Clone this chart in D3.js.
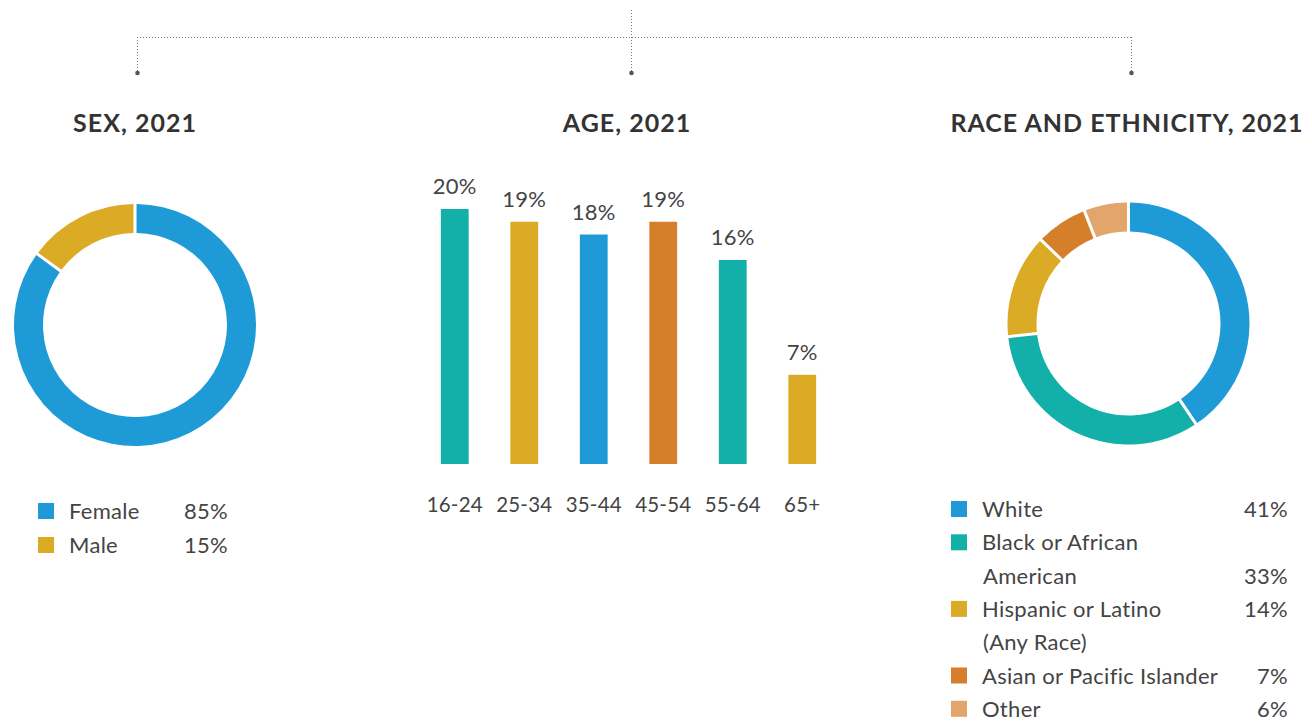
<!DOCTYPE html>
<html lang="en">
    <head>
        <meta charset="utf-8"/>
        <title>Demographics 2021</title>
        <script src="https://d3js.org/d3.v7.min.js"></script>
        <style>
            body { margin: 0; background-color: #fff; font-family: Lato, "Open Sans", sans-serif; }
            .title { font-weight: 700; font-size: 25px; fill: #333; letter-spacing: 1px; }
            .lbl { font-size: 22px; fill: #444; letter-spacing: 0.3px; }
            .tick text { font-size: 20.5px; fill: #444; letter-spacing: 0.2px; }
        </style>
    </head>
    <body>
        <div id="chart"></div>
        <script>
            // data
            var sexLabels = ["Female", "Male"];
            var sexValues = [85, 15];

            var ageGroups = ["16-24", "25-34", "35-44", "45-54", "55-64", "65+"];
            var ageValues = [20, 19, 18, 19, 16, 7];

            var raceLabels = ["White", "Black or African American", "Hispanic or Latino (Any Race)", "Asian or Pacific Islander", "Other"];
            var raceValues = [41, 33, 14, 7, 6];

            var blue = "#1e9bd7", teal = "#12b0a8", gold = "#dbab26", orange = "#d57f2a", tan = "#e2a66c";
            var sexColors = [blue, gold];
            var ageColors = [teal, gold, blue, orange, teal, gold];
            var raceColors = [blue, teal, gold, orange, tan];

            var width = 1312, height = 721;
            var svg = d3.select("#chart")
              .append("svg")
                .attr("width", width)
                .attr("height", height);

            // dotted connector at the top
            var conn = svg.append("g")
                .attr("stroke", "#777")
                .attr("stroke-width", 1)
                .attr("stroke-dasharray", "1,2")
                .attr("fill", "none");
            var xs = [137, 631, 1131];
            conn.append("line").attr("x1", xs[0]).attr("x2", xs[2]).attr("y1", 37.5).attr("y2", 37.5);
            conn.append("line").attr("x1", xs[1] + 0.5).attr("x2", xs[1] + 0.5).attr("y1", 10).attr("y2", 72);
            conn.append("line").attr("x1", xs[0] + 0.5).attr("x2", xs[0] + 0.5).attr("y1", 37).attr("y2", 73);
            conn.append("line").attr("x1", xs[2] + 0.5).attr("x2", xs[2] + 0.5).attr("y1", 37).attr("y2", 72);
            svg.append("g").selectAll("circle")
                .data(xs)
                .join("circle")
                .attr("cx", d => d + 0.5)
                .attr("cy", 73)
                .attr("r", 2.3)
                .attr("fill", "#555");

            // titles
            var titles = [["SEX, 2021", 135], ["AGE, 2021", 627], ["RACE AND ETHNICITY, 2021", 1127]];
            svg.selectAll("text.title")
                .data(titles)
                .join("text")
                .attr("class", "title")
                .attr("x", d => d[1])
                .attr("y", 132)
                .attr("text-anchor", "middle")
                .text(d => d[0]);

            var pie = d3.pie().sort(null).value(d => d);
            var arc = d3.arc().innerRadius(92).outerRadius(121).padAngle(0.02);

            function donut(values, colors, cx, cy) {
                svg.append("g")
                    .attr("transform", `translate(${cx},${cy})`)
                  .selectAll("path")
                    .data(pie(values))
                    .join("path")
                    .attr("d", arc)
                    .attr("fill", (d, i) => colors[i]);
            }

            // sex donut + legend
            donut(sexValues, sexColors, 135, 325);
            var sexLeg = svg.append("g").selectAll("g")
                .data(sexLabels)
                .join("g")
                .attr("transform", (d, i) => `translate(0,${519 + i * 34})`);
            sexLeg.append("rect")
                .attr("x", 38).attr("y", -16)
                .attr("width", 16).attr("height", 16)
                .attr("fill", (d, i) => sexColors[i]);
            sexLeg.append("text")
                .attr("class", "lbl")
                .attr("x", 69)
                .text(d => d);
            sexLeg.append("text")
                .attr("class", "lbl")
                .attr("x", 184)
                .text((d, i) => sexValues[i] + "%");

            // age bars
            var x = d3.scaleBand()
                .domain(ageGroups)
                .range([420, 837])
                .paddingInner(0.6)
                .paddingOuter(0.3);
            var y = d3.scaleLinear()
                .domain([0, 20])
                .range([464, 209]);
            var bars = svg.append("g");
            bars.selectAll("rect")
                .data(ageValues)
                .join("rect")
                .attr("x", (d, i) => x(ageGroups[i]))
                .attr("y", d => y(d))
                .attr("width", x.bandwidth())
                .attr("height", d => y(0) - y(d))
                .attr("fill", (d, i) => ageColors[i]);
            bars.selectAll("text.val")
                .data(ageValues)
                .join("text")
                .attr("class", "lbl val")
                .attr("x", (d, i) => x(ageGroups[i]) + x.bandwidth() / 2)
                .attr("y", d => y(d) - 15)
                .attr("text-anchor", "middle")
                .text(d => d + "%");
            var xAxis = svg.append("g")
                .attr("transform", "translate(0,464)")
                .call(d3.axisBottom(x).tickSize(0).tickPadding(0));
            xAxis.select(".domain").remove();
            xAxis.attr("font-size", null).attr("font-family", null);
            xAxis.selectAll("text")
                .attr("dy", null)
                .attr("y", 48);

            // race donut + legend
            donut(raceValues, raceColors, 1128.5, 323.5);
            // label lines, and which line holds the percent
            var raceLines = [["White"], ["Black or African", "American"], ["Hispanic or Latino", "(Any Race)"], ["Asian or Pacific Islander"], ["Other"]];
            var racePctLine = [0, 1, 0, 0, 0];
            var lineH = 33.3;
            var row = 0;
            var raceLeg = svg.append("g");
            raceLines.forEach(function(lines, i) {
                var y0 = 517 + row * lineH;
                raceLeg.append("rect")
                    .attr("x", 951).attr("y", y0 - 16)
                    .attr("width", 16).attr("height", 16)
                    .attr("fill", raceColors[i]);
                lines.forEach(function(t, j) {
                    raceLeg.append("text")
                        .attr("class", "lbl")
                        .attr("x", j == 0 ? 982 : 983)
                        .attr("y", y0 + j * lineH)
                        .text(t);
                });
                raceLeg.append("text")
                    .attr("class", "lbl")
                    .attr("x", 1288)
                    .attr("y", y0 + racePctLine[i] * lineH)
                    .attr("text-anchor", "end")
                    .text(raceValues[i] + "%");
                row += lines.length;
            });
        </script>
    </body>
</html>
